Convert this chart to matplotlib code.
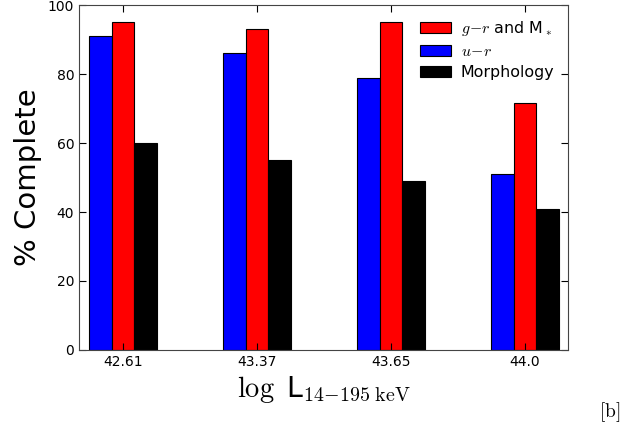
import numpy as np
import matplotlib
matplotlib.use('Agg')
from matplotlib import pyplot as plt

plt.rcParams['mathtext.fontset'] = 'cm'
plt.rcParams['font.family'] = 'DejaVu Sans'

# completeness per luminosity bin
lum_bins = ['42.61', '43.37', '43.65', '44.0']
ur_complete = [91, 86, 79, 51]
grm_complete = [95, 93, 95, 71.5]
morph_complete = [60, 55, 49, 41]


def bar_panel(ax, width=0.168):
    x = np.arange(len(lum_bins))
    ax.bar(x - width, ur_complete, width, color='#0000ff', edgecolor='black',
           linewidth=0.8, label=r'$u\!-\!r$')
    ax.bar(x, grm_complete, width, color='#ff0000', edgecolor='black',
           linewidth=0.8, label=r'$g\!-\!r$ and M$_*$')
    ax.bar(x + width, morph_complete, width, color='black', edgecolor='black',
           linewidth=0.8, label='Morphology')
    ax.set_xticks(x)
    ax.set_xticklabels(lum_bins)
    ax.set_xlim(-0.33, 3.32)
    ax.set_ylim(0, 100)
    ax.set_yticks(np.arange(0, 101, 20))
    ax.tick_params(direction='in', top=True, right=True, labelsize=10, length=5)
    for s in ax.spines.values():
        s.set_color('#444444')
    handles, labels = ax.get_legend_handles_labels()
    order = [1, 0, 2]
    ax.legend([handles[i] for i in order], [labels[i] for i in order],
              loc='upper right', frameon=False, fontsize=11.4,
              bbox_to_anchor=(1.0, 1.0), handlelength=2.0,
              handletextpad=0.6, borderaxespad=0.45, labelspacing=0.4)


fig = plt.figure(figsize=(6.22, 4.32), dpi=100)
ax = fig.add_axes([0.127, 0.19, 0.786, 0.798])
bar_panel(ax)
ax.set_ylabel('% Complete', fontsize=21)
ax.set_xlabel(r'$\log$ L$_{14{-}195\ \mathrm{keV}}$', fontsize=20.5)
fig.text(0.997, 0.035, r'$[\mathrm{b}]$', fontsize=14, ha='right', va='baseline')
fig.savefig('out.png', dpi=100)
